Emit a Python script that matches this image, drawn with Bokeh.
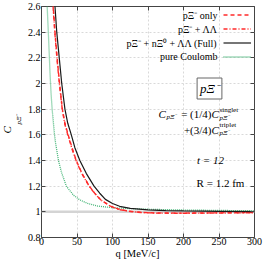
from bokeh.plotting import figure
from bokeh.models import (FixedTicker, LinearAxis, Label, Legend, LegendItem,
                          Span, Range1d, Title)
from bokeh.embed import file_html
from bokeh.resources import INLINE

# ---------------- data ----------------
q_full = [17, 19, 21.5, 25, 28.5, 33, 37, 42, 47, 54, 63, 74, 82, 90, 100,
          110, 125, 150, 175, 200, 250, 300]
c_full = [2.88, 2.6, 2.4, 2.2, 2.0, 1.8, 1.69, 1.6, 1.5, 1.4, 1.3, 1.2, 1.145,
          1.097, 1.065, 1.043, 1.027, 1.015, 1.01, 1.007, 1.004, 1.002]

q_only = [14.5, 16.5, 19, 22, 25.5, 29.4, 33, 37.6, 43, 49, 57, 67.4, 75,
          83.5, 97, 110, 125, 140, 160, 200, 250, 300]
c_only = [2.9, 2.6, 2.4, 2.2, 2.0, 1.8, 1.69, 1.6, 1.5, 1.4, 1.3, 1.2, 1.145,
          1.093, 1.045, 1.018, 1.004, 0.996, 0.991, 0.99, 0.992, 0.994]

q_ll = [14.5, 16.5, 19, 22, 25.5, 29.4, 33, 37.6, 43, 49, 57, 67.4, 75,
        83.5, 97, 110, 125, 140, 160, 200, 250, 300]
c_ll = [2.88, 2.58, 2.38, 2.18, 1.98, 1.79, 1.68, 1.59, 1.49, 1.395, 1.295,
        1.197, 1.143, 1.092, 1.044, 1.017, 1.003, 0.995, 0.99, 0.989, 0.991,
        0.993]

q_coul = [7, 8, 10, 12, 13.5, 15, 18.3, 20, 23.9, 28, 35, 45, 54, 65, 79,
          100, 125, 150, 200, 250, 300]
c_coul = [2.95, 2.6, 2.35, 2.08, 1.92, 1.8, 1.6, 1.53, 1.4, 1.31, 1.2, 1.13,
          1.093, 1.065, 1.045, 1.032, 1.025, 1.02, 1.014, 1.011, 1.008]

ref_level = 1.0

x_ticks = [0, 50, 100, 150, 200, 250, 300]
x_tick_labels = ["0", "50", "100", "150", "200", "250", "300"]
y_ticks = [0.8, 1.0, 1.2, 1.4, 1.6, 1.8, 2.0, 2.2, 2.4, 2.6]
y_tick_labels = ["0.8", "1", "1.2", "1.4", "1.6", "1.8", "2", "2.2", "2.4", "2.6"]

legend_labels = ["pΞ⁻ only", "pΞ⁻ + ΛΛ", "pΞ⁻ + nΞ⁰ + ΛΛ (Full)", "pure Coulomb"]

# ---------------- layout ----------------
W, H = 266, 260
BL, BR, BT, BB = 36, 12, 6, 22          # borders -> frame at x 36..254, y 6..238
FONT = "Liberation Serif"
RED = "#ff2a2a"
GREEN = "#45b577"
BLACK = "#1a1a1a"


def fx(x):            # page x -> frame-relative screen x
    return x - BL


def fy(y):            # page y (from top) -> frame-relative screen y (from bottom)
    return (H - BB) - y


p = figure(width=W, height=H, x_range=Range1d(0, 300), y_range=Range1d(0.8, 2.6),
           output_backend="svg", toolbar_location=None,
           min_border_left=BL, min_border_right=BR, min_border_top=BT,
           min_border_bottom=BB)
p.styles = {"position": "absolute", "top": "0px", "left": "0px"}
p.background_fill_color = "white"
p.border_fill_color = "white"
p.outline_line_color = "#444444"
p.outline_line_width = 1

xt = FixedTicker(ticks=x_ticks, minor_ticks=[])
yt = FixedTicker(ticks=y_ticks, minor_ticks=[])

for ax in (p.xaxis[0], p.yaxis[0]):
    ax.axis_line_color = None
    ax.major_tick_in = 4
    ax.major_tick_out = 0
    ax.minor_tick_line_color = None
    ax.major_tick_line_color = "#444444"
    ax.major_label_text_font = FONT
    ax.major_label_text_font_size = "10px"
    ax.major_label_text_color = "black"

p.xaxis[0].ticker = xt
p.yaxis[0].ticker = yt
p.xaxis[0].major_label_overrides = {t: s for t, s in zip(x_ticks, x_tick_labels)}
p.yaxis[0].major_label_overrides = {t: s for t, s in zip(y_ticks, y_tick_labels)}
p.xaxis[0].major_label_standoff = 0
p.yaxis[0].major_label_standoff = 1

for side, tk, ticks in (("right", yt, y_ticks), ("above", xt, x_ticks)):
    ax = LinearAxis(ticker=tk)
    ax.axis_line_color = None
    ax.major_tick_in = 4
    ax.major_tick_out = 0
    ax.minor_tick_line_color = None
    ax.major_tick_line_color = "#444444"
    ax.major_label_standoff = 0
    ax.major_label_overrides = {t: "" for t in ticks}
    ax.major_label_text_font_size = "1px"
    p.add_layout(ax, side)

# axis titles as side-panel titles; start-aligned with offsets along the axis
p.add_layout(Title(text="pΞ⁻", text_font=FONT, text_font_size="7px",
                   text_font_style="italic", align="left", offset=113, standoff=0,
                   vertical_align="top", text_color="black"), "left")
p.add_layout(Title(text="C", text_font=FONT, text_font_size="11px",
                   text_font_style="italic", align="left", offset=104, standoff=0,
                   vertical_align="top", text_color="black"), "left")
p.add_layout(Title(text="q [MeV/c]", text_font=FONT, text_font_size="10.5px",
                   text_font_style="normal", align="left", offset=74, standoff=0,
                   vertical_align="top", text_color="black"), "below")

p.xgrid.ticker = xt
p.ygrid.ticker = yt
for g in (p.xgrid[0], p.ygrid[0]):
    g.grid_line_color = "#d9d9d9"
    g.grid_line_dash = "2 2"
    g.grid_line_width = 1

span = Span(location=ref_level, dimension="width", line_color="#d4d4d4",
            line_width=2.5, level="underlay")
p.add_layout(span)

r_coul = p.line(q_coul, c_coul, line_color=GREEN, line_width=1.3, line_dash="1 1")
r_only = p.line(q_only, c_only, line_color=RED, line_width=1.4, line_dash="4 3")
r_ll = p.line(q_ll, c_ll, line_color=RED, line_width=1.4, line_dash="4 2 1 2")
r_full = p.line(q_full, c_full, line_color=BLACK, line_width=1.2)

# legend: samples on the right (built-in legend), texts right-aligned to their left
legend = Legend(items=[LegendItem(label=" ", renderers=[r]) for r in
                       (r_only, r_ll, r_full, r_coul)],
                location=(fx(218), fy(64)), orientation="vertical",
                glyph_width=28, glyph_height=13, label_height=13, label_width=0,
                label_standoff=0, spacing=1, padding=0, margin=0,
                label_text_font_size="1px",
                background_fill_alpha=0, border_line_alpha=0)
p.add_layout(legend, "center")

for i, txt in enumerate(legend_labels):
    p.add_layout(Label(x=fx(212), y=fy(16 + 13.8 * i), x_units="screen", y_units="screen",
                       text=txt, text_align="right", text_baseline="middle",
                       text_font=FONT, text_font_size="10px", text_color="black"))


def lab(x, y, text, size="11px", align="left", style="normal", angle=0, **kw):
    p.add_layout(Label(x=fx(x), y=fy(y), x_units="screen", y_units="screen", text=text,
                       text_align=align, text_baseline="middle", text_font=FONT,
                       text_font_size=size, text_font_style=style, angle=angle,
                       text_color="black", **kw))


# boxed system label
lab(204, 89, "pΞ⁻", size="13px", align="center", style="italic",
    border_line_color="#666666", border_line_width=1,
    background_fill_color="white", padding=3)

# formula
lab(153, 114, "C", style="italic")
lab(161, 117.5, "pΞ⁻", size="7px", style="italic")
lab(206, 114, "= (1/4)", align="right")
lab(206, 114, "C", style="italic")
lab(214, 110, "singlet", size="7px")
lab(214, 118, "pΞ⁻", size="7px", style="italic")
lab(206, 130, "+(3/4)", align="right")
lab(206, 130, "C", style="italic")
lab(214, 125.5, "triplet", size="7px")
lab(214, 133.5, "pΞ⁻", size="7px", style="italic")

lab(205, 160, "t = 12", align="center", style="italic")
lab(215, 183, "R = 1.2 fm", align="center")

open("out.html", "w").write(file_html(p, INLINE))
